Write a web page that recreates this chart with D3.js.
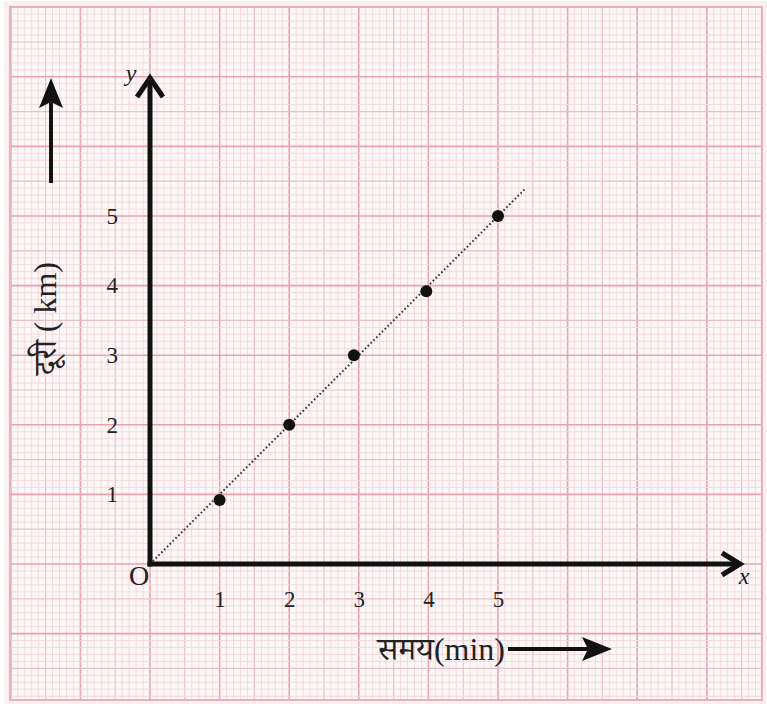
<!DOCTYPE html>
<html><head><meta charset="utf-8">
<script src="https://cdn.jsdelivr.net/npm/d3@7"></script>
<style>
html,body{margin:0;padding:0;background:#ffffff;}
svg{display:block;}
</style></head>
<body>
<script>
// ---- data ----
const timeMin = [1, 2, 2.93, 3.97, 5];
const distKm = [0.92, 2.0, 3.0, 3.92, 5.0];
const xTicks = [1, 2, 3, 4, 5];
const yTicks = [1, 2, 3, 4, 5];
const fitEnd = [5.38, 5.38];
const xLabel = "समय(min)";
const yLabel = "दूरी ( km)";

const W = 767, H = 704;
const svg = d3.select("body").append("svg").attr("width", W).attr("height", H);

const x = d3.scaleLinear().domain([0, 5]).range([150, 498]);
const y = d3.scaleLinear().domain([0, 5]).range([564, 216]);

// paper
const P = {x0: 10, y0: 7, x1: 762, y1: 700};
svg.append("rect").attr("x", P.x0 - 6).attr("y", P.y0 - 6).attr("width", P.x1 - P.x0 + 12).attr("height", P.y1 - P.y0 + 12)
  .attr("fill", "#fbf1f2");
svg.append("rect").attr("x", P.x0).attr("y", P.y0).attr("width", P.x1 - P.x0).attr("height", P.y1 - P.y0)
  .attr("fill", "#fdf7f8");

const g = svg.append("g");
function gridLines(scale, lo, hi, vertical) {
  const a = Math.ceil(Math.min(scale.invert(lo), scale.invert(hi)) * 10);
  const b = Math.floor(Math.max(scale.invert(lo), scale.invert(hi)) * 10);
  const ks = d3.range(a, b + 1);
  ks.forEach(k => {
    const p = scale(k / 10);
    const major = k % 10 === 0, mid = k % 5 === 0;
    const col = major ? "#eaa2ab" : (mid ? "#e9c0c5" : "#f0d7da");
    const sw = major ? 1.6 : (mid ? 1.2 : 0.9);
    const ln = g.append("line").attr("stroke", col).attr("stroke-width", sw);
    if (vertical) ln.attr("x1", p).attr("x2", p).attr("y1", P.y0).attr("y2", P.y1);
    else ln.attr("y1", p).attr("y2", p).attr("x1", P.x0).attr("x2", P.x1);
  });
}
gridLines(x, P.x0, P.x1, true);
gridLines(y, P.y0, P.y1, false);
svg.append("rect").attr("x", P.x0).attr("y", P.y0).attr("width", P.x1 - P.x0).attr("height", P.y1 - P.y0)
  .attr("fill", "none").attr("stroke", "#eab0b8").attr("stroke-width", 2);

const serif = "'Liberation Serif','Times New Roman',serif";
const deva = "'Liberation Serif','Noto Serif Devanagari','Noto Sans Devanagari','Lohit Devanagari',serif";

// axes tick labels
const xa = svg.append("g").attr("transform", `translate(0,${y(0)})`)
  .call(d3.axisBottom(x).tickValues(xTicks).tickSize(0).tickPadding(27).tickFormat(d3.format("d")));
xa.select(".domain").remove();
xa.attr("font-family", serif).attr("font-size", 23);
xa.selectAll("text").attr("font-family", serif).attr("font-size", 23).attr("fill", "#222");

const ya = svg.append("g").attr("transform", `translate(${x(0)},0)`)
  .call(d3.axisLeft(y).tickValues(yTicks).tickSize(0).tickPadding(32).tickFormat(d3.format("d")));
ya.select(".domain").remove();
ya.attr("font-family", serif).attr("font-size", 23);
ya.selectAll("text").attr("font-family", serif).attr("font-size", 23).attr("fill", "#222");

// fit line (dotted)
svg.append("line")
  .attr("x1", x(0)).attr("y1", y(0)).attr("x2", x(fitEnd[0])).attr("y2", y(fitEnd[1]))
  .attr("stroke", "#333").attr("stroke-width", 2).attr("stroke-dasharray", "1.6 2.4");

// axes lines with open arrowheads
const ax = svg.append("g").attr("stroke", "#111").attr("stroke-width", 5).attr("fill", "none")
  .attr("stroke-linecap", "butt").attr("stroke-linejoin", "miter");
ax.append("line").attr("x1", x(0)).attr("y1", y(0) + 2.5).attr("x2", x(0)).attr("y2", 78);
ax.append("path").attr("d", `M${x(0) - 13},97 L${x(0)},78 L${x(0) + 13},97`);
ax.append("line").attr("x1", x(0) - 2.5).attr("y1", y(0)).attr("x2", 740).attr("y2", y(0));
ax.append("path").attr("d", `M722,${y(0) - 11} L740,${y(0)} L722,${y(0) + 11}`);

// points
svg.append("g").selectAll("circle").data(timeMin).join("circle")
  .attr("cx", (d, i) => x(d)).attr("cy", (d, i) => y(distKm[i])).attr("r", 6).attr("fill", "#111");

// labels
svg.append("text").attr("x", 139).attr("y", 585).attr("text-anchor", "middle")
  .attr("font-family", serif).attr("font-size", 28).attr("fill", "#222").text("O");
svg.append("text").attr("x", 131).attr("y", 81).attr("text-anchor", "middle")
  .attr("font-family", serif).attr("font-style", "italic").attr("font-size", 24).attr("fill", "#222").text("y");
svg.append("text").attr("x", 744).attr("y", 584).attr("text-anchor", "middle")
  .attr("font-family", serif).attr("font-style", "italic").attr("font-size", 24).attr("fill", "#222").text("x");

svg.append("text").attr("x", 505).attr("y", 660).attr("text-anchor", "end")
  .attr("font-family", deva).attr("font-size", 32).attr("fill", "#222").text(xLabel);
svg.append("text").attr("transform", "translate(56,262) rotate(-90)").attr("text-anchor", "end")
  .attr("font-family", deva).attr("font-size", 32).attr("fill", "#222").text(yLabel);

// direction arrows (filled heads)
svg.append("line").attr("x1", 508).attr("y1", 649).attr("x2", 590).attr("y2", 649)
  .attr("stroke", "#111").attr("stroke-width", 4);
svg.append("path").attr("d", "M612,649 L582,637 L588,649 L582,661 Z").attr("fill", "#111");
svg.append("line").attr("x1", 51).attr("y1", 183).attr("x2", 51).attr("y2", 100)
  .attr("stroke", "#111").attr("stroke-width", 4);
svg.append("path").attr("d", "M51,78 L39,108 L51,102 L63,108 Z").attr("fill", "#111");
</script>
</body></html>
